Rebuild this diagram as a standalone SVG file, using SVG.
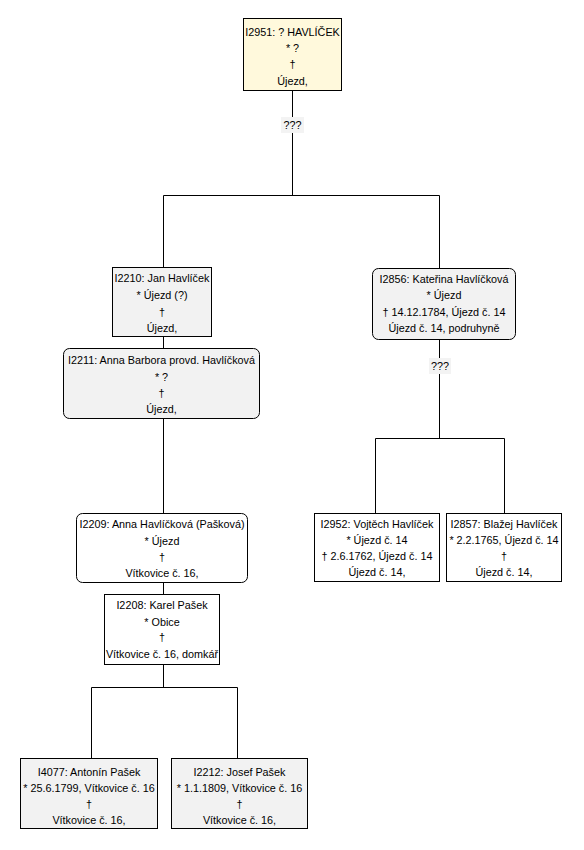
<svg xmlns="http://www.w3.org/2000/svg" width="584" height="850" viewBox="0 0 584 850">
<style>
text{font-family:"Liberation Sans",Arial,sans-serif;font-size:10.8px;fill:#000;text-anchor:middle}
.box{stroke:#000;stroke-width:1}
.root{fill:#FFF9DC}
.gray{fill:#F2F2F2}
.white{fill:#FFFFFF}
.conn line{stroke:#000;stroke-width:1}
.lbl{fill:#F3F3F3}
</style>
<rect width="584" height="850" fill="#FFFFFF"/>
<g class="conn" id="connectors">
<line x1="292.5" y1="91" x2="292.5" y2="195.5"/>
<line x1="163.5" y1="195.5" x2="439.5" y2="195.5"/>
<line x1="163.5" y1="195.5" x2="163.5" y2="267"/>
<line x1="439.5" y1="195.5" x2="439.5" y2="268"/>
<line x1="163.5" y1="337" x2="163.5" y2="348"/>
<line x1="163.5" y1="419" x2="163.5" y2="513"/>
<line x1="163.5" y1="583" x2="163.5" y2="594"/>
<line x1="163.5" y1="665" x2="163.5" y2="687.5"/>
<line x1="91.5" y1="687.5" x2="237.5" y2="687.5"/>
<line x1="91.5" y1="687.5" x2="91.5" y2="758"/>
<line x1="237.5" y1="687.5" x2="237.5" y2="758"/>
<line x1="439.5" y1="340" x2="439.5" y2="438.5"/>
<line x1="375.5" y1="438.5" x2="504.5" y2="438.5"/>
<line x1="375.5" y1="438.5" x2="375.5" y2="513"/>
<line x1="504.5" y1="438.5" x2="504.5" y2="513"/>
<rect class="lbl" x="281" y="117" width="23" height="16"/>
<text x="292.5" y="129">???</text>
<rect class="lbl" x="429" y="358" width="22" height="16"/>
<text x="440" y="370">???</text>
</g>
<g id="I2951">
<rect class="box root" x="243.5" y="18.5" width="98" height="72"/>
<text x="292.5" y="35.5">I2951: ? HAVLÍČEK</text>
<text x="292.5" y="51.5">* ?</text>
<text x="292.5" y="67.5">†</text>
<text x="292.5" y="84.5">Újezd,</text>
</g>
<g id="I2210">
<rect class="box gray" x="112.5" y="267.5" width="99" height="69"/>
<text x="162" y="282">I2210: Jan Havlíček</text>
<text x="162" y="299">* Újezd (?)</text>
<text x="162" y="316">†</text>
<text x="162" y="332">Újezd,</text>
</g>
<g id="I2211">
<rect class="box gray" x="63.5" y="348.5" width="196" height="70" rx="6"/>
<text x="161.5" y="363.5">I2211: Anna Barbora provd. Havlíčková</text>
<text x="161.5" y="380.5">* ?</text>
<text x="161.5" y="396.5">†</text>
<text x="161.5" y="413">Újezd,</text>
</g>
<g id="I2209">
<rect class="box white" x="76.5" y="513.5" width="171" height="69" rx="6"/>
<text x="162" y="528">I2209: Anna Havlíčková (Pašková)</text>
<text x="162" y="545">* Újezd</text>
<text x="162" y="561">†</text>
<text x="162" y="577">Vítkovice č. 16,</text>
</g>
<g id="I2208">
<rect class="box white" x="104.5" y="594.5" width="115" height="70"/>
<text x="162" y="609">I2208: Karel Pašek</text>
<text x="162" y="626">* Obice</text>
<text x="162" y="641">†</text>
<text x="162" y="658">Vítkovice č. 16, domkář</text>
</g>
<g id="I4077">
<rect class="box gray" x="20.5" y="758.5" width="137" height="70"/>
<text x="89" y="775.5">I4077: Antonín Pašek</text>
<text x="89" y="791.5">* 25.6.1799, Vítkovice č. 16</text>
<text x="89" y="807.5">†</text>
<text x="89" y="823.5">Vítkovice č. 16,</text>
</g>
<g id="I2212">
<rect class="box gray" x="171.5" y="758.5" width="136" height="70"/>
<text x="239.5" y="775.5">I2212: Josef Pašek</text>
<text x="239.5" y="791.5">* 1.1.1809, Vítkovice č. 16</text>
<text x="239.5" y="807.5">†</text>
<text x="239.5" y="823.5">Vítkovice č. 16,</text>
</g>
<g id="I2856">
<rect class="box gray" x="372.5" y="268.5" width="143" height="71" rx="6"/>
<text x="444" y="283">I2856: Kateřina Havlíčková</text>
<text x="444" y="299">* Újezd</text>
<text x="444" y="316">† 14.12.1784, Újezd č. 14</text>
<text x="444" y="332">Újezd č. 14, podruhyně</text>
</g>
<g id="I2952">
<rect class="box white" x="314.5" y="513.5" width="125" height="68"/>
<text x="377" y="528">I2952: Vojtěch Havlíček</text>
<text x="377" y="544">* Újezd č. 14</text>
<text x="377" y="560">† 2.6.1762, Újezd č. 14</text>
<text x="377" y="576">Újezd č. 14,</text>
</g>
<g id="I2857">
<rect class="box white" x="446.5" y="513.5" width="115" height="68"/>
<text x="504" y="528">I2857: Blažej Havlíček</text>
<text x="504" y="544">* 2.2.1765, Újezd č. 14</text>
<text x="504" y="560">†</text>
<text x="504" y="576">Újezd č. 14,</text>
</g>
</svg>
